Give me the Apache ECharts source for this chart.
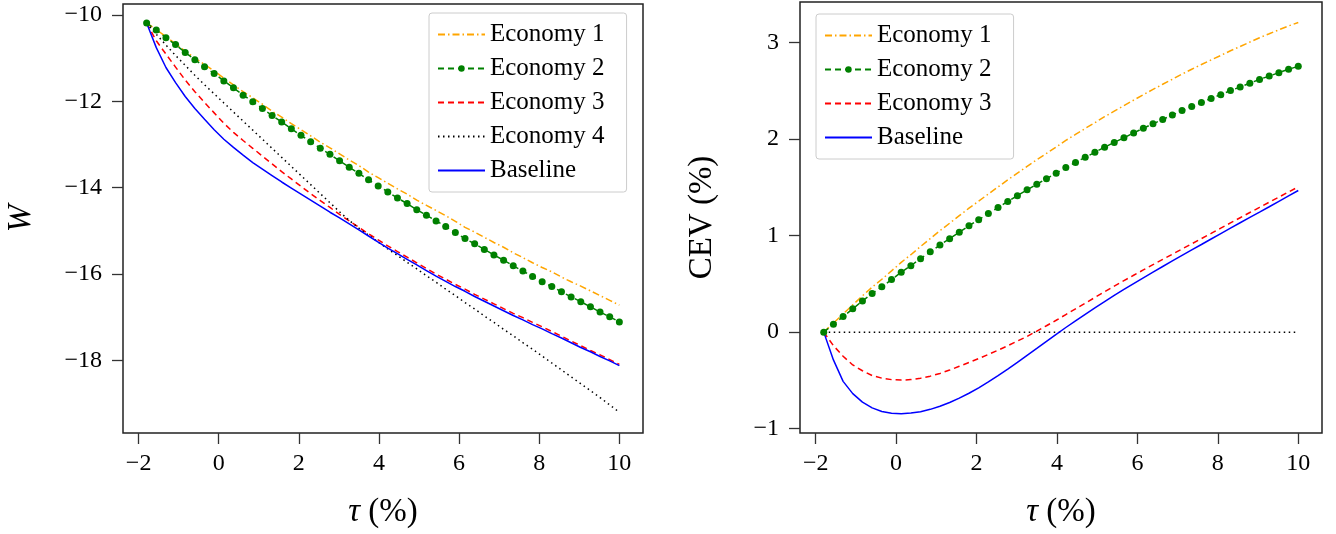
<!DOCTYPE html>
<html><head><meta charset="utf-8">
<script src="https://cdn.jsdelivr.net/npm/echarts@6/dist/echarts.min.js"></script>
<style>html,body{margin:0;padding:0;background:#fff}#c{width:1336px;height:534px}</style>
</head><body><div id="c"></div>
<script>
// tau (%) grid shared by all curves
const tau = [-1.8,-1.559,-1.318,-1.078,-0.837,-0.596,-0.355,-0.114,0.127,0.367,
0.608,0.849,1.09,1.331,1.571,1.812,2.053,2.294,2.535,2.776,
3.016,3.257,3.498,3.739,3.98,4.22,4.461,4.702,4.943,5.184,
5.424,5.665,5.906,6.147,6.388,6.629,6.869,7.11,7.351,7.592,
7.833,8.073,8.314,8.555,8.796,9.037,9.278,9.518,9.759,10];

const xTicks = [-2,0,2,4,6,8,10];
const wTicks = [-18,-16,-14,-12,-10];
const cevTicks = [-1,0,1,2,3];

// Left panel: W
const wEcon1 = [-10.19,-10.34,-10.51,-10.67,-10.84,-11.00,-11.15,-11.30,-11.47,-11.62,
-11.78,-11.92,-12.07,-12.23,-12.37,-12.52,-12.66,-12.80,-12.95,-13.08,
-13.22,-13.36,-13.49,-13.64,-13.77,-13.90,-14.03,-14.15,-14.29,-14.41,
-14.53,-14.65,-14.78,-14.92,-15.03,-15.15,-15.27,-15.38,-15.51,-15.62,
-15.74,-15.85,-15.95,-16.07,-16.18,-16.28,-16.39,-16.50,-16.61,-16.72];
const wEcon2 = [-10.19,-10.35,-10.53,-10.69,-10.87,-11.04,-11.20,-11.36,-11.53,-11.69,
-11.86,-12.01,-12.17,-12.33,-12.48,-12.64,-12.79,-12.94,-13.09,-13.23,
-13.38,-13.53,-13.67,-13.82,-13.96,-14.10,-14.24,-14.37,-14.51,-14.64,
-14.77,-14.90,-15.04,-15.18,-15.30,-15.43,-15.56,-15.68,-15.81,-15.93,
-16.06,-16.18,-16.29,-16.41,-16.53,-16.64,-16.76,-16.88,-16.99,-17.11];
const wEcon3 = [-10.19,-10.60,-10.91,-11.21,-11.51,-11.78,-12.03,-12.27,-12.51,-12.72,
-12.91,-13.09,-13.27,-13.45,-13.63,-13.80,-13.97,-14.14,-14.30,-14.46,
-14.62,-14.77,-14.92,-15.07,-15.21,-15.35,-15.48,-15.61,-15.74,-15.87,
-16.00,-16.12,-16.24,-16.35,-16.47,-16.58,-16.69,-16.80,-16.91,-17.01,
-17.12,-17.22,-17.33,-17.44,-17.55,-17.66,-17.77,-17.87,-17.98,-18.09];
const wEcon4 = [-10.19,-10.45,-10.70,-10.94,-11.17,-11.40,-11.62,-11.83,-12.04,-12.25,
-12.46,-12.67,-12.88,-13.09,-13.30,-13.51,-13.72,-13.93,-14.14,-14.35,
-14.56,-14.76,-14.94,-15.10,-15.26,-15.42,-15.57,-15.73,-15.88,-16.04,
-16.19,-16.35,-16.50,-16.66,-16.81,-16.97,-17.12,-17.28,-17.43,-17.59,
-17.74,-17.90,-18.06,-18.22,-18.38,-18.54,-18.70,-18.86,-19.03,-19.20];
const wBase = [-10.19,-10.76,-11.22,-11.57,-11.89,-12.17,-12.42,-12.66,-12.88,-13.07,
-13.25,-13.42,-13.57,-13.72,-13.87,-14.01,-14.15,-14.29,-14.43,-14.57,
-14.70,-14.84,-14.98,-15.12,-15.26,-15.40,-15.53,-15.66,-15.79,-15.92,
-16.05,-16.17,-16.29,-16.40,-16.52,-16.63,-16.74,-16.85,-16.96,-17.06,
-17.17,-17.27,-17.38,-17.48,-17.59,-17.70,-17.80,-17.91,-18.01,-18.12];

// Right panel: CEV (%)
const cevEcon1 = [0,0.094,0.188,0.282,0.376,0.466,0.548,0.634,0.723,0.802,
0.887,0.969,1.051,1.128,1.206,1.284,1.357,1.431,1.504,1.577,
1.647,1.717,1.786,1.851,1.918,1.986,2.048,2.110,2.170,2.232,
2.289,2.346,2.403,2.460,2.514,2.568,2.620,2.674,2.723,2.772,
2.820,2.866,2.915,2.959,3.005,3.050,3.091,3.132,3.172,3.208];
const cevEcon2 = [0,0.081,0.161,0.242,0.323,0.400,0.470,0.544,0.621,0.688,
0.761,0.832,0.902,0.968,1.035,1.102,1.165,1.228,1.291,1.354,
1.414,1.474,1.533,1.589,1.646,1.705,1.758,1.811,1.863,1.916,
1.965,2.014,2.063,2.112,2.158,2.204,2.249,2.295,2.337,2.379,
2.421,2.460,2.502,2.540,2.579,2.618,2.653,2.688,2.723,2.754];
const cevEcon3 = [0,-0.14,-0.25,-0.34,-0.40,-0.45,-0.477,-0.492,-0.497,-0.492,
-0.478,-0.456,-0.428,-0.393,-0.354,-0.315,-0.274,-0.231,-0.187,-0.141,
-0.093,-0.044,0.010,0.066,0.123,0.182,0.241,0.300,0.359,0.418,
0.476,0.533,0.589,0.644,0.699,0.753,0.807,0.861,0.915,0.969,
1.023,1.077,1.131,1.185,1.239,1.293,1.346,1.399,1.452,1.505];
const cevEcon4 = [0,0,0,0,0,0,0,0,0,0,
0,0,0,0,0,0,0,0,0,0,
0,0,0,0,0,0,0,0,0,0,
0,0,0,0,0,0,0,0,0,0,
0,0,0,0,0,0,0,0,0,0];
const cevBase = [0,-0.288,-0.51,-0.637,-0.725,-0.785,-0.822,-0.840,-0.845,-0.839,
-0.824,-0.800,-0.768,-0.729,-0.684,-0.633,-0.577,-0.516,-0.451,-0.383,
-0.313,-0.241,-0.169,-0.096,-0.023,0.048,0.117,0.185,0.251,0.316,
0.380,0.442,0.503,0.563,0.622,0.680,0.738,0.795,0.852,0.908,
0.965,1.021,1.077,1.133,1.188,1.243,1.299,1.355,1.411,1.467];

const leftLegend = ['Economy 1','Economy 2','Economy 3','Economy 4','Baseline'];
const rightLegend = ['Economy 1','Economy 2','Economy 3','Baseline'];

const FONT = 'Liberation Serif';
const fmt = v => (v < 0 ? '\u2212' : '') + Math.abs(v);
const pairs = vals => tau.map((x, i) => [x, vals[i]]);

const styles = {
  'Economy 1': {color:'#FFA500', type:[7,3,1.5,3], symbol:'none'},
  'Economy 2': {color:'#008000', type:[6,4], symbol:'circle'},
  'Economy 3': {color:'#FF0000', type:[6,4], symbol:'none'},
  'Economy 4': {color:'#000000', type:[1.5,3.5], symbol:'none'},
  'Baseline':  {color:'#0000FF', type:'solid', symbol:'none'}
};
function mk(name, vals, idx) {
  const s = styles[name];
  return {
    name, type:'line', xAxisIndex:idx, yAxisIndex:idx, data:pairs(vals),
    symbol:s.symbol, symbolSize:7, showSymbol:s.symbol !== 'none',
    itemStyle:{color:s.color},
    lineStyle:{color:s.color, width:1.5, type:s.type},
    silent:true, animation:false
  };
}

function xAxisCfg(idx) {
  return {
    type:'value', gridIndex:idx, min:-2.39, max:10.59, position:'bottom',
    axisLine:{show:false, onZero:false},
    axisTick:{show:true, inside:false, length:11, lineStyle:{color:'#333', width:1.3}, customValues:xTicks},
    axisLabel:{show:true, customValues:xTicks, formatter:fmt, margin:19,
      fontFamily:FONT, fontSize:24, color:'#000'},
    splitLine:{show:false},
    name:'{t|\u03C4} (%)', nameLocation:'middle', nameGap:63,
    nameTextStyle:{fontFamily:FONT, fontSize:33, color:'#000',
      rich:{t:{fontFamily:FONT, fontSize:33, fontStyle:'italic', color:'#000'}}}
  };
}
function yAxisCfg(idx, mn, mx, ticks, name, gap, italic) {
  return {
    type:'value', gridIndex:idx, min:mn, max:mx, position:'left',
    axisLine:{show:false, onZero:false},
    axisTick:{show:true, inside:false, length:11, lineStyle:{color:'#333', width:1.3}, customValues:ticks},
    axisLabel:{show:true, customValues:ticks, formatter:fmt, margin:21,
      fontFamily:FONT, fontSize:24, color:'#000'},
    splitLine:{show:false},
    name:name, nameLocation:'middle', nameGap:gap,
    nameTextStyle:{fontFamily:FONT, fontSize:33, color:'#000', fontStyle: italic ? 'italic' : 'normal'}
  };
}
function legendItems(names) {
  return names.map(n => styles[n].symbol === 'none'
    ? {name:n, itemStyle:{opacity:0, color:'transparent', borderWidth:0}}
    : {name:n});
}
function legendCfg(names, left, top) {
  return {
    show:true, orient:'vertical', left:left, top:top, data:legendItems(names),
    itemWidth:47, itemHeight:8, itemGap:9, padding:[9,22,9,8],
    textStyle:{fontFamily:FONT, fontSize:25, color:'#000', lineHeight:25},
    borderColor:'#cccccc', borderWidth:1, borderRadius:3,
    backgroundColor:'rgba(255,255,255,0.8)', selectedMode:false
  };
}

const chart = echarts.init(document.getElementById('c'), null, {renderer:'canvas'});
chart.setOption({
  animation:false,
  backgroundColor:'#ffffff',
  grid:[
    {left:123, top:4, width:520, height:431, show:true, borderColor:'#222', borderWidth:1.5, backgroundColor:'transparent'},
    {left:800, top:2, width:522, height:432, show:true, borderColor:'#222', borderWidth:1.5, backgroundColor:'transparent'}
  ],
  xAxis:[xAxisCfg(0), xAxisCfg(1)],
  yAxis:[
    yAxisCfg(0, -19.68, -9.75, wTicks, 'W', 85, true),
    yAxisCfg(1, -1.045, 3.42, cevTicks, 'CEV (%)', 81, false)
  ],
  legend:[legendCfg(leftLegend, 429, 13), legendCfg(rightLegend, 816, 14)],
  series:[
    mk('Economy 1', wEcon1, 0),
    mk('Economy 2', wEcon2, 0),
    mk('Economy 3', wEcon3, 0),
    mk('Economy 4', wEcon4, 0),
    mk('Baseline', wBase, 0),
    mk('Economy 1', cevEcon1, 1),
    mk('Economy 2', cevEcon2, 1),
    mk('Economy 3', cevEcon3, 1),
    mk('Economy 4', cevEcon4, 1),
    mk('Baseline', cevBase, 1)
  ]
});
</script>
</body></html>
